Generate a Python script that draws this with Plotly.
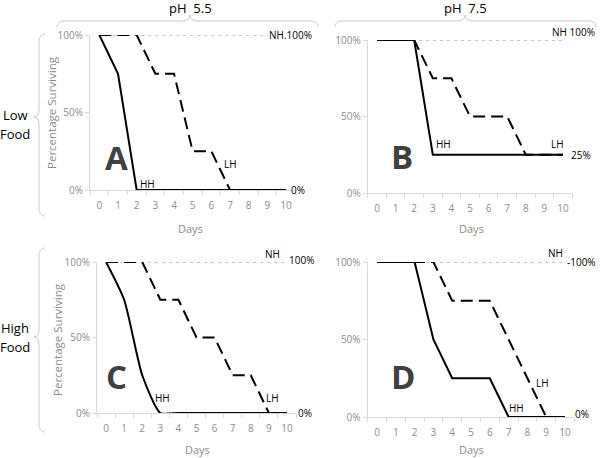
import plotly.graph_objects as go

W, H = 600, 458
days = list(range(11))
tick_days = [str(d) for d in days]
pct_ticks = [0, 50, 100]
pct_labels = ["0%", "50%", "100%"]

# survival (%) by day
a_hh = [100, 75, 0, 0, 0, 0, 0, 0, 0, 0, 0]
a_lh = [100, 100, 100, 75, 75, 25, 25, 0, 0, 0, 0]
b_hh = [100, 100, 100, 25, 25, 25, 25, 25, 25, 25, 25]
b_lh = [100, 100, 100, 75, 75, 50, 50, 50, 25, 25, 25]
c_hh = [100, 75, 25, 0, 0, 0, 0, 0, 0, 0, 0]
c_lh = [100, 100, 100, 75, 75, 50, 50, 25, 25, 0, 0]
d_hh = [100, 100, 100, 50, 25, 25, 25, 0, 0, 0, 0]
d_lh = [100, 100, 100, 100, 75, 75, 75, 50, 25, 0, 0]
nh = [100] * 11

def px(x):
    return x / W

def py(y):
    return 1 - y / H

# panel pixel boxes: (x_left, x_right, y_bottom, y_top)
boxes = {
    "A": (90, 295.4, 190, 35),
    "B": (367.7, 572.3, 193, 40),
    "C": (97, 296, 413, 262),
    "D": (367.6, 574.4, 417, 262),
}
panels = [("A", a_hh, a_lh, False), ("B", b_hh, b_lh, False),
          ("C", c_hh, c_lh, True), ("D", d_hh, d_lh, False)]

fig = go.Figure()
axis_gray = "#d9d9d9"
tick_gray = "#8c8c8c"
font = "Open Sans"

for i, (name, hh, lh, smooth) in enumerate(panels, start=1):
    xa = "x" if i == 1 else f"x{i}"
    ya = "y" if i == 1 else f"y{i}"
    fig.add_trace(go.Scatter(x=days, y=nh, mode="lines", xaxis=xa, yaxis=ya,
                             line=dict(color="#8a8a8a", width=1, dash="3px,4px"),
                             cliponaxis=False, showlegend=False, hoverinfo="skip"))
    fig.add_trace(go.Scatter(x=days, y=lh, mode="lines", xaxis=xa, yaxis=ya,
                             line=dict(color="black", width=2, dash="12px,6px"),
                             cliponaxis=False, showlegend=False, hoverinfo="skip"))
    fig.add_trace(go.Scatter(x=days, y=hh, mode="lines", xaxis=xa, yaxis=ya,
                             line=dict(color="black", width=2,
                                       shape="spline" if smooth else "linear",
                                       smoothing=0.6),
                             cliponaxis=False, showlegend=False, hoverinfo="skip"))
    x0, x1, yb, yt = boxes[name]
    xkey = "xaxis" if i == 1 else f"xaxis{i}"
    ykey = "yaxis" if i == 1 else f"yaxis{i}"
    fig.layout[xkey] = dict(
        domain=[px(x0), px(x1)], range=[-0.5, 10.5], anchor=ya,
        tickvals=days, ticktext=tick_days, ticks="", showgrid=False,
        zeroline=False, showline=True, linecolor=axis_gray, linewidth=1,
        tickfont=dict(family=font, size=10, color=tick_gray), ticklabelstandoff=6,
        minor=dict(tickvals=[d - 0.5 for d in range(12)], ticks="outside",
                   ticklen=4, tickcolor=axis_gray, showgrid=False),
        fixedrange=True, automargin=False)
    fig.layout[ykey] = dict(
        domain=[py(yb), py(yt)], range=[0, 100], anchor=xa,
        tickvals=pct_ticks, ticktext=pct_labels, ticks="outside", ticklen=4,
        tickcolor=axis_gray, showgrid=False, zeroline=False, showline=True,
        linecolor=axis_gray, linewidth=1,
        tickfont=dict(family=font, size=10, color=tick_gray), fixedrange=True,
        automargin=False)

ann = []

def data_text(i, x, y, text, xanchor="center", bg=None, yshift=0):
    xa = "x" if i == 1 else f"x{i}"
    ya = "y" if i == 1 else f"y{i}"
    d = dict(x=x, y=y, xref=xa, yref=ya, text=text, showarrow=False,
             xanchor=xanchor, yanchor="middle", yshift=yshift,
             font=dict(family=font, size=10, color="black"))
    if bg:
        d["bgcolor"] = bg
        d["borderpad"] = 0
    ann.append(d)

# Panel A
data_text(1, 9.05, 100, "NH.100%", "left", bg="white")
data_text(1, 7.0, 17, "LH")
data_text(1, 2.6, 4, "HH")
data_text(1, 10.15, 0, "0%", "left")
# Panel B
data_text(2, 9.3, 100, "NH 100%", "left", yshift=8)
data_text(2, 3.6, 32, "HH")
data_text(2, 9.7, 32, "LH")
data_text(2, 10.3, 25, "25%", "left")
# Panel C
data_text(3, 9.2, 100, "NH", yshift=8)
data_text(3, 10.0, 100, "100%", "left", yshift=2)
data_text(3, 3.1, 10, "HH")
data_text(3, 9.2, 10, "LH")
data_text(3, 10.5, 0, "0%", "left")
# Panel D
data_text(4, 9.5, 100, "NH", yshift=9)
data_text(4, 10.0, 100, "-100%", "left")
data_text(4, 8.8, 22, "LH")
data_text(4, 7.4, 6, "HH")
data_text(4, 10.4, 2, "0%", "left")

def paper_text(x, y, text, size, color, angle=0, bold=False):
    t = f"<b>{text}</b>" if bold else text
    ann.append(dict(x=px(x), y=py(y), xref="paper", yref="paper", text=t,
                    showarrow=False, xanchor="center", yanchor="middle",
                    textangle=angle, font=dict(family=font, size=size, color=color)))

# panel letters
for name, (lx, ly) in {"A": (116, 157), "B": (402, 156), "C": (116, 376), "D": (403, 376)}.items():
    paper_text(lx, ly, name, 33, "#404040", bold=True)

# axis titles
for (dx, dy) in [(190, 228), (471, 228), (197, 449), (471, 449)]:
    paper_text(dx, dy, "Days", 11, tick_gray)
paper_text(52, 113, "Percentage Surviving", 11.5, tick_gray, angle=-90)
paper_text(57, 340, "Percentage Surviving", 11.5, tick_gray, angle=-90)

# group labels
paper_text(190, 8, "pH  5.5", 13, "black")
paper_text(465, 8, "pH  7.5", 13, "black")
paper_text(15, 115, "Low", 13, "black")
paper_text(15, 134, "Food", 13, "black")
paper_text(15, 328, "High", 13, "black")
paper_text(15, 347, "Food", 13, "black")

fig.update_layout(annotations=ann)

# braces
def hbrace(x0, x1, xc, y_end, y_body, y_tip, r=8):
    p = (f"M {px(x0)},{py(y_end)} Q {px(x0)},{py(y_body)} {px(x0 + r)},{py(y_body)} "
         f"L {px(xc - r)},{py(y_body)} Q {px(xc)},{py(y_body)} {px(xc)},{py(y_tip)} "
         f"Q {px(xc)},{py(y_body)} {px(xc + r)},{py(y_body)} "
         f"L {px(x1 - r)},{py(y_body)} Q {px(x1)},{py(y_body)} {px(x1)},{py(y_end)}")
    return p

def vbrace(y0, y1, yc, x_end, x_body, x_tip, r=8):
    p = (f"M {px(x_end)},{py(y0)} Q {px(x_body)},{py(y0)} {px(x_body)},{py(y0 + r)} "
         f"L {px(x_body)},{py(yc - r)} Q {px(x_body)},{py(yc)} {px(x_tip)},{py(yc)} "
         f"Q {px(x_body)},{py(yc)} {px(x_body)},{py(yc + r)} "
         f"L {px(x_body)},{py(y1 - r)} Q {px(x_body)},{py(y1)} {px(x_end)},{py(y1)}")
    return p

brace_line = dict(color="#c8c8c8", width=1)
shapes = [
    dict(type="path", xref="paper", yref="paper", path=hbrace(57, 318, 190, 27, 21, 15), line=brace_line),
    dict(type="path", xref="paper", yref="paper", path=hbrace(335, 596, 465, 27, 21, 15), line=brace_line),
    dict(type="path", xref="paper", yref="paper", path=vbrace(34, 216, 117, 45, 39, 34), line=brace_line),
    dict(type="path", xref="paper", yref="paper", path=vbrace(248, 432, 337, 45, 39, 34), line=brace_line),
]
fig.update_layout(shapes=shapes, width=W, height=H,
                  margin=dict(l=0, r=0, t=0, b=0, pad=0, autoexpand=False),
                  paper_bgcolor="white", plot_bgcolor="white")

fig.write_html("out.html", config={"displayModeBar": False},
               post_script="document.body.style.margin='0px';")
